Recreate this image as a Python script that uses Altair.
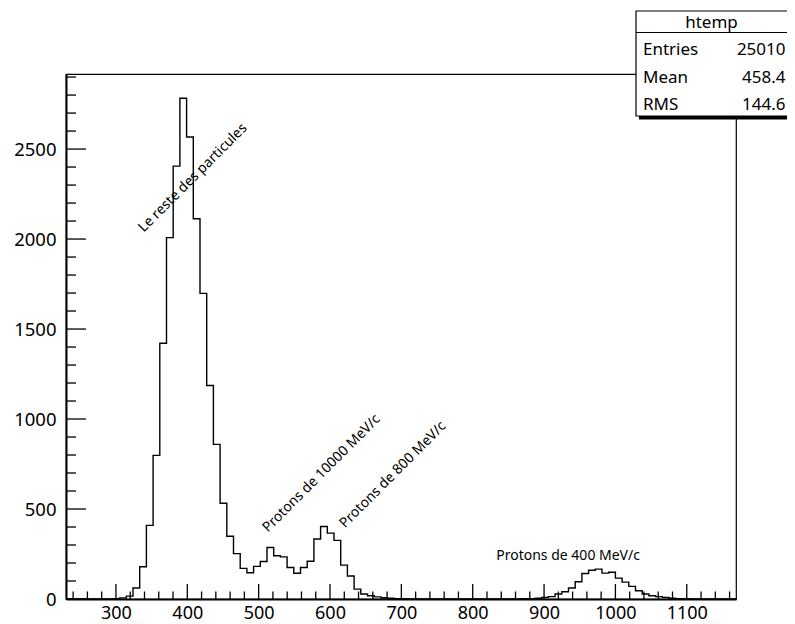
import altair as alt
import pandas as pd

# ---------------- data ----------------
X_MIN = 230.0
X_MAX = 1169.0
N_BINS = 100
COUNTS = [0, 0, 0, 0, 0, 0, 0, 2, 6, 16,
          61, 179, 409, 798, 1421, 2008, 2405, 2782, 2567, 2113,
          1698, 1186, 859, 532, 349, 252, 170, 146, 181, 208,
          286, 240, 234, 175, 143, 175, 210, 333, 403, 366,
          326, 188, 128, 55, 28, 18, 12, 7, 4, 2,
          1, 0, 0, 0, 0, 0, 0, 0, 0, 0,
          0, 0, 0, 0, 0, 0, 0, 0, 1, 2,
          4, 9, 13, 28, 40, 61, 96, 142, 160, 166,
          144, 149, 116, 94, 70, 46, 28, 18, 13, 9,
          4, 2, 1, 0, 0, 0, 0, 0, 0, 0]
Y_MAX = 2917

X_LABELS = [300, 400, 500, 600, 700, 800, 900, 1000, 1100]
X_MINOR = [v for v in range(240, 1170, 20) if v % 100 != 0]
Y_LABELS = [0, 500, 1000, 1500, 2000, 2500]
Y_MINOR = [v for v in range(100, 3000, 100) if v % 500 != 0]

ANNOT_TEXT = ["Le reste des particules", "Protons de 10000 MeV/c",
              "Protons de 800 MeV/c", "Protons de 400 MeV/c"]
ANNOT_X = [339, 513, 621, 833]
ANNOT_Y = [2035, 368, 392, 215]
ANNOT_ANGLE = [315, 315, 315, 0]

STAT_TITLE = "htemp"
STAT_NAMES = ["Entries", "Mean", "RMS"]
STAT_VALUES = ["25010", "458.4", "144.6"]

# ---------------- layout ----------------
W, H = 670, 525
FONT = "Noto Sans"

width_bin = (X_MAX - X_MIN) / N_BINS
edges = [X_MIN + i * width_bin for i in range(N_BINS + 1)]
hist = pd.DataFrame({"x": edges, "n": COUNTS + [COUNTS[-1]]})

xs = alt.Scale(domain=[X_MIN, X_MAX], nice=False, zero=False)
ys = alt.Scale(domain=[0, Y_MAX], nice=False, zero=True)

x_axis = alt.Axis(values=X_LABELS, title=None, ticks=False, grid=False,
                  labelFont=FONT, labelFontSize=18, labelColor="black",
                  labelPadding=5, domainColor="black", domainWidth=2,
                  format="d", labelFlush=False)
y_axis = alt.Axis(values=Y_LABELS, title=None, ticks=False, grid=False,
                  labelFont=FONT, labelFontSize=18.5, labelColor="black",
                  labelPadding=10, domainColor="black", domainWidth=2,
                  format="d", labelFlush=False)

line = alt.Chart(hist).mark_line(interpolate="step-after", color="black",
                                 strokeWidth=1.4).encode(
    x=alt.X("x:Q", scale=xs, axis=x_axis),
    y=alt.Y("n:Q", scale=ys, axis=y_axis),
)

xmaj = alt.Chart(pd.DataFrame({"v": X_LABELS})).mark_rule(color="black", strokeWidth=1.3).encode(
    x=alt.X("v:Q", scale=xs, axis=x_axis), y=alt.value(H), y2=alt.value(H - 15))
xmin = alt.Chart(pd.DataFrame({"v": X_MINOR})).mark_rule(color="black", strokeWidth=1.3).encode(
    x=alt.X("v:Q", scale=xs, axis=x_axis), y=alt.value(H), y2=alt.value(H - 7.5))
ymaj = alt.Chart(pd.DataFrame({"v": Y_LABELS})).mark_rule(color="black", strokeWidth=1.3).encode(
    y=alt.Y("v:Q", scale=ys, axis=y_axis), x=alt.value(0), x2=alt.value(20))
ymin = alt.Chart(pd.DataFrame({"v": Y_MINOR})).mark_rule(color="black", strokeWidth=1.3).encode(
    y=alt.Y("v:Q", scale=ys, axis=y_axis), x=alt.value(0), x2=alt.value(10))

layers = [line, xmaj, xmin, ymaj, ymin]

ann = pd.DataFrame({"t": ANNOT_TEXT, "x": ANNOT_X, "y": ANNOT_Y, "a": ANNOT_ANGLE})
for i in range(len(ANNOT_TEXT)):
    layers.append(
        alt.Chart(ann.iloc[[i]]).mark_text(font=FONT, fontSize=14, align="left",
                                           baseline="alphabetic", color="black",
                                           angle=ANNOT_ANGLE[i]).encode(
            x=alt.X("x:Q", scale=xs, axis=x_axis),
            y=alt.Y("y:Q", scale=ys, axis=y_axis),
            text="t:N"))

# ---------------- statistics box ----------------
box_df = pd.DataFrame({"k": [0]})
layers.append(alt.Chart(box_df).mark_rect(fill="black").encode(
    x=alt.value(573), x2=alt.value(760), y=alt.value(42), y2=alt.value(45.5)))
layers.append(alt.Chart(box_df).mark_rect(fill="white", stroke="black", strokeWidth=1.2).encode(
    x=alt.value(570), x2=alt.value(760), y=alt.value(-63), y2=alt.value(42)))
layers.append(alt.Chart(box_df).mark_rule(color="black", strokeWidth=1.2).encode(
    x=alt.value(570), x2=alt.value(760), y=alt.value(-41.5)))
layers.append(alt.Chart(pd.DataFrame({"t": [STAT_TITLE]})).mark_text(
    font=FONT, fontSize=17, align="center", baseline="alphabetic", color="black").encode(
    x=alt.value(645.5), y=alt.value(-46), text="t:N"))
row_y = [-19, 9, 36]
for i in range(len(STAT_NAMES)):
    layers.append(alt.Chart(pd.DataFrame({"t": [STAT_NAMES[i]]})).mark_text(
        font=FONT, fontSize=17, align="left", baseline="alphabetic", color="black").encode(
        x=alt.value(577), y=alt.value(row_y[i]), text="t:N"))
    layers.append(alt.Chart(pd.DataFrame({"t": [STAT_VALUES[i]]})).mark_text(
        font=FONT, fontSize=17, align="right", baseline="alphabetic", color="black").encode(
        x=alt.value(719.5), y=alt.value(row_y[i]), text="t:N"))

chart = alt.layer(*layers).properties(
    width=W, height=H,
    padding={"left": 58, "top": 66, "right": 51, "bottom": 25},
    autosize=alt.AutoSizeParams(type="none"),
    background="white",
).configure_view(stroke="black", strokeWidth=1.2)

chart.save("out.html", embed_options={"renderer": "svg", "actions": False})
